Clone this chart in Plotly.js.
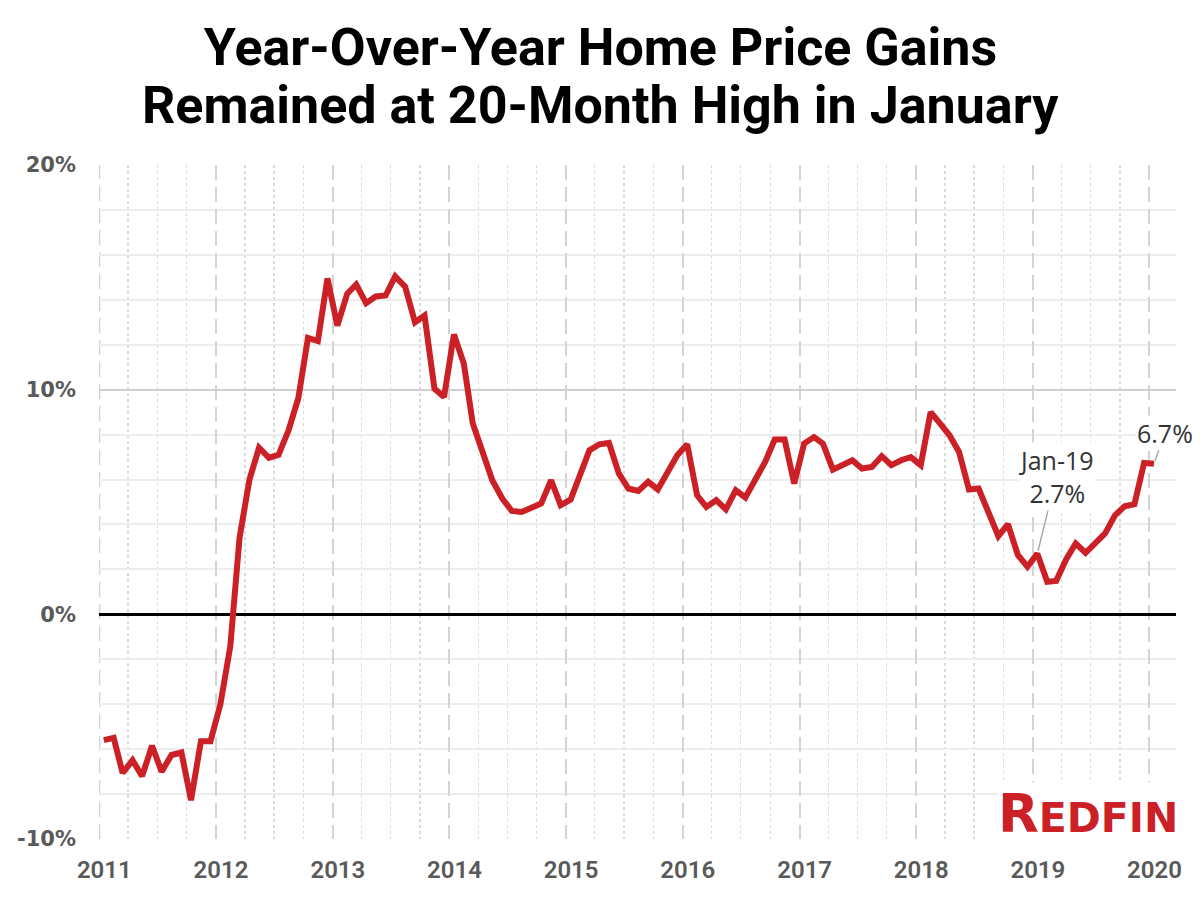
<!DOCTYPE html>
<html>
<head>
<meta charset="utf-8">
<script src="https://cdn.plot.ly/plotly-3.0.1.min.js"></script>
<style>
  html, body { margin: 0; padding: 0; background: #ffffff; }
  #chart { width: 1201px; height: 899px; }
</style>
</head>
<body>
<div id="chart"></div>
<script>
// ---- Data ----
const startYear = 2011;
const startMonth = 1;   // January 2011
const yoyGain = [
  -5.6, -5.5, -7.06, -6.5, -7.2, -5.85, -7.0, -6.26, -6.15, -8.27, -5.65, -5.65,
  -4.0, -1.42, 3.42, 6.0, 7.42, 6.97, 7.1, 8.18, 9.63, 12.3, 12.16, 14.95,
  12.85, 14.27, 14.68, 13.85, 14.15, 14.19, 15.04, 14.59, 13.0, 13.3, 10.04, 9.67,
  12.46, 11.15, 8.49, 7.3, 5.97, 5.16, 4.6, 4.56, 4.78, 4.93, 5.97, 4.86,
  5.1, 6.19, 7.3, 7.57, 7.63, 6.27, 5.6, 5.49, 5.9, 5.56, 6.34, 7.08,
  7.57, 5.3, 4.78, 5.08, 4.67, 5.52, 5.2, 6.04, 6.78, 7.78, 7.78, 5.82,
  7.6, 7.89, 7.6, 6.44, 6.64, 6.86, 6.49, 6.56, 7.04, 6.64, 6.86, 7.0,
  6.64, 9.0, 8.52, 7.97, 7.23, 5.56, 5.6, 4.56, 3.48, 4.01, 2.64, 2.12,
  2.7, 1.45, 1.49, 2.44, 3.15, 2.74, 3.15, 3.6, 4.41, 4.81, 4.9, 6.74,
  6.7
];
const titleLines = ["Year-Over-Year Home Price Gains", "Remained at 20-Month High in January"];
const yTickVals = [-10, 0, 10, 20];
const yTickText = ["-10%", "0%", "10%", "20%"];
const callout1 = { date: "2019-01-15", value: 2.7, text: "Jan-19<br>2.7%" };
const callout2 = { date: "2020-01-15", value: 6.7, text: "6.7%" };
const brand = "REDFIN";
const firstYearLine = "2011-01-01";

// monthly dates (mid-month)
const months = yoyGain.map((_, i) => {
  const y = startYear + Math.floor((startMonth - 1 + i) / 12);
  const m = ((startMonth - 1 + i) % 12) + 1;
  return y + "-" + String(m).padStart(2, "0") + "-15";
});

const RED = "#cc2027";
const FONT = "Roboto, 'Open Sans', sans-serif";
const ANN_FONT = "'Open Sans', Roboto, sans-serif";
const TICK_FONT = "'DejaVu Sans', 'Open Sans', sans-serif";
const MAJOR_X_GRID = { color: "#d4d4d4", width: 2, dash: "15px,7px" };

const W = 1201, H = 899, T = 165, B = 60, L = 99, R = 25;
const plotH = H - T - B, plotW = W - L - R;
const paperY = (px) => (H - B - px) / plotH;
const paperX = (px) => (px - L) / plotW;

const trace = {
  type: "scatter",
  mode: "lines",
  x: months,
  y: yoyGain,
  line: { color: RED, width: 6, shape: "linear" },
  hoverinfo: "skip",
  showlegend: false
};

const layout = {
  width: W,
  height: H,
  paper_bgcolor: "#ffffff",
  plot_bgcolor: "#ffffff",
  margin: { l: L, r: R, t: T, b: B },
  font: { family: FONT, color: "#595959" },
  title: {
    text: titleLines[0],
    font: { family: FONT, size: 52, color: "#000000", weight: 700 },
    x: 0.5, xanchor: "center", xref: "container",
    y: 1 - 47 / H, yanchor: "middle", yref: "container"
  },
  xaxis: {
    type: "date",
    range: ["2010-12-31", "2020-03-24"],
    tick0: "2011-01-01",
    dtick: "M12",
    tickformat: "%Y",
    showgrid: true,
    gridcolor: MAJOR_X_GRID.color,
    gridwidth: MAJOR_X_GRID.width,
    griddash: MAJOR_X_GRID.dash,
    minor: {
      dtick: "M3",
      tick0: "2011-01-01",
      showgrid: true,
      gridcolor: "#dadada",
      gridwidth: 1.2,
      griddash: "dot"
    },
    zeroline: false,
    showline: false,
    ticks: "",
    ticklabelstandoff: 14,
    ticklabelshift: 5,
    tickfont: { family: FONT, size: 24, color: "#595959", weight: 600 },
    fixedrange: true
  },
  yaxis: {
    range: [-10, 20],
    tickvals: yTickVals,
    ticktext: yTickText,
    showgrid: true,
    gridcolor: "#d0d0d0",
    gridwidth: 2,
    minor: {
      dtick: 2,
      tick0: 0,
      showgrid: true,
      gridcolor: "#ededed",
      gridwidth: 2
    },
    zeroline: true,
    zerolinecolor: "#000000",
    zerolinewidth: 3,
    showline: false,
    ticks: "",
    ticklabelstandoff: 22,
    tickfont: { family: TICK_FONT, size: 21, color: "#595959", weight: 600 },
    fixedrange: true
  },
  shapes: [
    {
      type: "line", layer: "below",
      xref: "x", yref: "paper",
      x0: firstYearLine, x1: firstYearLine, y0: 0, y1: 1,
      line: { color: MAJOR_X_GRID.color, width: MAJOR_X_GRID.width, dash: MAJOR_X_GRID.dash }
    }
  ],
  annotations: [
    {
      xref: "paper", yref: "paper",
      x: paperX(600.5), y: paperY(106), xanchor: "center", yanchor: "middle",
      showarrow: false,
      text: titleLines[1],
      font: { family: FONT, size: 52, color: "#000000", weight: 700 }
    },
    {
      x: callout1.date, y: callout1.value, xref: "x", yref: "y",
      text: callout1.text,
      showarrow: true, arrowhead: 0, arrowwidth: 1.5, arrowcolor: "#aaaaaa",
      ax: 19, ay: -77, standoff: 3,
      font: { family: ANN_FONT, size: 25, color: "#333333" },
      bgcolor: "#ffffff", borderpad: 0, align: "center"
    },
    {
      x: callout2.date, y: callout2.value, xref: "x", yref: "y",
      text: callout2.text,
      showarrow: true, arrowhead: 0, arrowwidth: 1.5, arrowcolor: "#aaaaaa",
      ax: 11, ay: -31, standoff: 3,
      font: { family: ANN_FONT, size: 25, color: "#333333" },
      bgcolor: "#ffffff", borderpad: 0, align: "center"
    },
    {
      xref: "paper", yref: "paper",
      x: 1.0, y: 0.0, xanchor: "right", yanchor: "bottom",
      yshift: -6, xshift: 3,
      showarrow: false,
      text: "<span style='font-size:53px'>" + brand.charAt(0) + "</span>" + brand.slice(1),
      font: { family: TICK_FONT, size: 41, color: RED, weight: 700 },
      bgcolor: "#ffffff", borderpad: 0
    }
  ]
};

Plotly.newPlot("chart", [trace], layout, { staticPlot: true, displayModeBar: false });
</script>
</body>
</html>
